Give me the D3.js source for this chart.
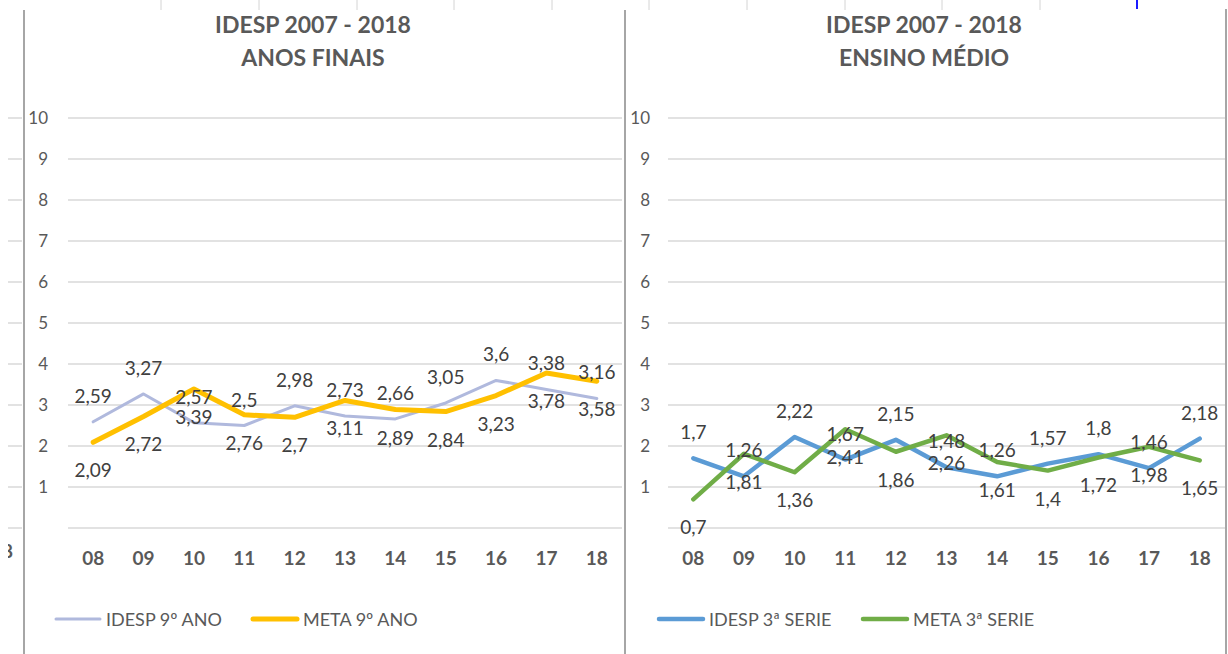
<!DOCTYPE html>
<html>
<head>
<meta charset="utf-8">
<script src="https://cdn.jsdelivr.net/npm/d3@7"></script>
<style>
  body { margin: 0; background: #fff; }
  svg { display: block; font-family: Lato, "Open Sans", sans-serif; }
</style>
</head>
<body>
<div id="chart"></div>
<script>
var years = ["08", "09", "10", "11", "12", "13", "14", "15", "16", "17", "18"];
var yTicks = [0, 1, 2, 3, 4, 5, 6, 7, 8, 9, 10];

var idesp9 = [2.59, 3.27, 2.57, 2.5, 2.98, 2.73, 2.66, 3.05, 3.6, 3.38, 3.16];
var meta9 = [2.09, 2.72, 3.39, 2.76, 2.7, 3.11, 2.89, 2.84, 3.23, 3.78, 3.58];
var idesp3 = [1.7, 1.26, 2.22, 1.67, 2.15, 1.48, 1.26, 1.57, 1.8, 1.46, 2.18];
var meta3 = [0.7, 1.81, 1.36, 2.41, 1.86, 2.26, 1.61, 1.4, 1.72, 1.98, 1.65];

var titleTop = "IDESP 2007 - 2018";
var titles = ["ANOS FINAIS", "ENSINO MÉDIO"];
var seriesNames = [["IDESP 9º ANO", "META 9º ANO"], ["IDESP 3ª SERIE", "META 3ª SERIE"]];

var width = 1228, height = 654;

var svg = d3.select("#chart").append("svg")
    .attr("width", width)
    .attr("height", height);

// spreadsheet bits peeking out around the charts
var colLines = [161, 259, 357, 454, 552, 649, 747, 845, 942, 1040];
svg.selectAll("line.col").data(colLines).enter().append("line")
    .attr("x1", function (d) { return d; }).attr("x2", function (d) { return d; })
    .attr("y1", 0).attr("y2", 10)
    .style("stroke", "#d4d4d4").style("stroke-width", 1);
svg.append("line").attr("x1", 1137).attr("x2", 1137).attr("y1", 0).attr("y2", 9)
    .style("stroke", "#1a1aff").style("stroke-width", 2);

function fmt(v) { return String(v).replace(".", ","); }

function drawChart(opt) {
    var y = d3.scaleLinear().domain([0, 10]).range([528, 118]);
    var x = d3.scaleBand().domain(years).range([opt.left, opt.right]);
    var cx = function (d, i) { return x(years[i]) + x.bandwidth() / 2; };

    var g = svg.append("g");

    // gridlines
    g.selectAll("line.grid").data(yTicks).enter().append("line")
        .attr("x1", opt.left).attr("x2", opt.right)
        .attr("y1", function (d) { return y(d); }).attr("y2", function (d) { return y(d); })
        .style("stroke", "#d9d9d9").style("stroke-width", 1.5);

    // y labels
    g.selectAll("text.yl").data(yTicks.slice(1)).enter().append("text")
        .attr("x", opt.labelX).attr("y", function (d) { return y(d) + 6; })
        .attr("text-anchor", "end")
        .style("font-size", "17px").style("fill", "#595959")
        .text(function (d) { return d; });

    // x labels
    var xAxis = d3.axisBottom(x).tickSize(0).tickPadding(0);
    var ax = g.append("g").attr("transform", "translate(0,551)").call(xAxis);
    ax.select(".domain").remove();
    ax.selectAll("text")
        .style("font-family", "Lato, sans-serif")
        .style("font-size", "19px").style("font-weight", "bold").style("fill", "#595959");

    // titles
    g.append("text").attr("x", opt.titleX).attr("y", 33).attr("text-anchor", "middle")
        .style("font-size", "23px").style("font-weight", "bold").style("fill", "#595959")
        .text(titleTop);
    g.append("text").attr("x", opt.titleX).attr("y", 66).attr("text-anchor", "middle")
        .style("font-size", "23px").style("font-weight", "bold").style("fill", "#595959")
        .text(opt.title);

    var line = d3.line().x(cx).y(function (d) { return y(d); });

    opt.series.forEach(function (s) {
        g.append("path").datum(s.values)
            .attr("d", line)
            .style("fill", "none").style("stroke", s.color)
            .style("stroke-width", s.width)
            .style("stroke-linejoin", "round").style("stroke-linecap", "round");
    });

    opt.series.forEach(function (s) {
        g.selectAll(null).data(s.values).enter().append("text")
            .attr("x", cx)
            .attr("y", function (d) { return y(d) + s.dy; })
            .attr("text-anchor", "middle")
            .style("font-size", "19px").style("fill", "#404040")
            .text(fmt);
    });

    // legend
    opt.series.forEach(function (s) {
        g.append("line")
            .attr("x1", s.lx).attr("x2", s.lx + 44)
            .attr("y1", 619).attr("y2", 619)
            .style("stroke", s.color).style("stroke-width", s.width)
            .style("stroke-linecap", "round");
        g.append("text").attr("x", s.lx + 50).attr("y", 626)
            .style("font-size", "18px").style("fill", "#595959")
            .text(s.name);
    });

    // chart border
    g.append("line").attr("x1", opt.border).attr("x2", opt.border)
        .attr("y1", 10).attr("y2", height)
        .style("stroke", "#a6a6a6").style("stroke-width", 2);
}

drawChart({
    left: 68, right: 622, labelX: 48, border: 24, titleX: 313, title: titles[0],
    series: [
        { name: seriesNames[0][0], values: idesp9, color: "#b0b9dd", width: 3, dy: -19, lx: 56 },
        { name: seriesNames[0][1], values: meta9, color: "#ffc000", width: 5, dy: 35, lx: 253 }
    ]
});

drawChart({
    left: 668, right: 1225, labelX: 650, border: 625, titleX: 924, title: titles[1],
    series: [
        { name: seriesNames[1][0], values: idesp3, color: "#5b9bd5", width: 4.5, dy: -19, lx: 659 },
        { name: seriesNames[1][1], values: meta3, color: "#70ad47", width: 4.5, dy: 35, lx: 863 }
    ]
});

// right border of the second chart
svg.append("line").attr("x1", 1226).attr("x2", 1226).attr("y1", 9).attr("y2", height)
    .style("stroke", "#a6a6a6").style("stroke-width", 2);

// stubs of the chart that sits further left
svg.selectAll("line.stub").data(yTicks).enter().append("line")
    .attr("x1", 8).attr("x2", 22)
    .attr("y1", function (d) { return 528 - d * 41; }).attr("y2", function (d) { return 528 - d * 41; })
    .style("stroke", "#d9d9d9").style("stroke-width", 1.5);
svg.append("clipPath").attr("id", "cutLeft").append("rect")
    .attr("x", 8).attr("y", 540).attr("width", 12).attr("height", 30);
svg.append("text").attr("x", 2).attr("y", 558)
    .attr("clip-path", "url(#cutLeft)")
    .style("font-size", "19px").style("font-weight", "bold").style("fill", "#595959")
    .text("8");
</script>
</body>
</html>
